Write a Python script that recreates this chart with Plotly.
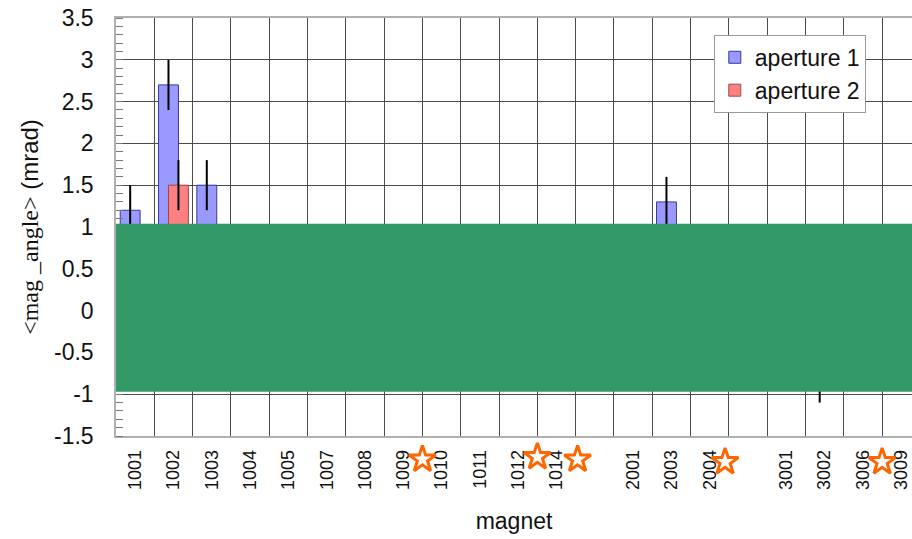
import plotly.graph_objects as go

# Magnet labels along the x axis ("" marks a spacer slot between groups)
magnets = ["1001", "1002", "1003", "1004", "1005", "1007", "1008", "1009",
           "1010", "1011", "1012", "1014", "", "2001", "2003", "2004", "",
           "3001", "3002", "3006", "3009"]

# Mean magnet angle (mrad) per aperture, with uncertainties
aperture1 = [1.2, 2.7, 1.5, None, None, None, None, None, None, None, None,
             None, None, None, 1.3, None, None, None, -0.8, None, None]
aperture1_err = [0.3, 0.3, 0.3, 0, 0, 0, 0, 0, 0, 0, 0,
                 0, 0, 0, 0.3, 0, 0, 0, 0.3, 0, 0]
aperture2 = [None, 1.5, None, None, None, None, None, None, None, None, None,
             None, None, None, None, None, None, None, None, None, None]
aperture2_err = [0, 0.3, 0, 0, 0, 0, 0, 0, 0, 0, 0,
                 0, 0, 0, 0, 0, 0, 0, 0, 0, 0]

# y-axis tick values and their labels
y_ticks = [-1.5, -1.0, -0.5, 0.0, 0.5, 1.0, 1.5, 2.0, 2.5, 3.0, 3.5]
y_tick_labels = ["-1.5", "-1", "-0.5", "0", "0.5", "1", "1.5", "2", "2.5",
                 "3", "3.5"]

# Flagged magnets, marked with stars beneath the axis
star_x = [7.5, 10.5, 11.55, 15.4, 19.5]
star_y = [-1.78, -1.75, -1.78, -1.81, -1.81]

# Shaded tolerance band
band_low, band_high = -0.97, 1.04

positions = list(range(len(magnets)))
x_range = [-0.5, 20.28]
y_range = [-1.5, 3.5]

# Layout geometry: main panel plus a thin strip under it for the star markers
W, H = 912, 539
M_L, M_R, M_T, M_B = 116, 0, 18, 40
panel_bottom_px = 436
plot_h = H - M_T - M_B
split = (H - M_B - panel_bottom_px) / plot_h
px_per_unit = (panel_bottom_px - M_T) / (y_range[1] - y_range[0])
strip_range = [y_range[0] - (H - M_B - panel_bottom_px) / px_per_unit, y_range[0]]

fig = go.Figure()
fig.add_trace(go.Bar(
    x=positions, y=aperture1, name="aperture 1",
    width=0.52, offset=-0.39,
    marker=dict(color="#9999ff", line=dict(color="#3a3a9a", width=1)),
    error_y=dict(type="data", array=aperture1_err, color="black",
                 thickness=2, width=0),
))
fig.add_trace(go.Bar(
    x=positions, y=aperture2, name="aperture 2",
    width=0.52, offset=-0.13,
    marker=dict(color="#ff8080", line=dict(color="#9a4a4a", width=1)),
    error_y=dict(type="data", array=aperture2_err, color="black",
                 thickness=2, width=0),
))
fig.add_trace(go.Scatter(
    x=star_x, y=star_y, mode="markers", showlegend=False,
    xaxis="x2", yaxis="y2", hoverinfo="skip",
    marker=dict(symbol="star-open", size=20, color="#ff6600",
                line=dict(color="#ff6600", width=3)),
))

fig.add_shape(type="rect", xref="paper", x0=0, x1=1, yref="y",
              y0=band_low, y1=band_high, fillcolor="#339966",
              line=dict(width=0), layer="above")

fig.update_layout(
    width=W, height=H,
    margin=dict(l=M_L, r=M_R, t=M_T, b=M_B),
    paper_bgcolor="white", plot_bgcolor="white",
    barmode="overlay",
    font=dict(family="Liberation Sans, Arial, sans-serif", color="#111"),
    legend=dict(x=0.751, y=0.965, xanchor="left", yanchor="top",
                bgcolor="white", bordercolor="#999", borderwidth=1,
                font=dict(size=23), tracegroupgap=2),
    xaxis=dict(
        range=x_range, tickmode="array", tickvals=positions,
        ticktext=magnets, tickangle=-90, tickfont=dict(size=18),
        ticks="", showgrid=False, zeroline=False, automargin=False,
        ticklabelstandoff=5, anchor="y",
        minor=dict(tick0=0.5, dtick=1, showgrid=True, gridcolor="#4a4a4a",
                   gridwidth=1.3, ticks=""),
        showline=True, linecolor="#b0b0b0", linewidth=1.5, mirror=True,
        title=dict(text="magnet", font=dict(size=23), standoff=24),
    ),
    yaxis=dict(
        domain=[split, 1], range=y_range,
        tickmode="array", tickvals=y_ticks, ticktext=y_tick_labels,
        tickfont=dict(size=23), ticks="", ticklabelstandoff=16,
        showgrid=True, gridcolor="#4a4a4a", gridwidth=1.3, zeroline=False,
        automargin=False,
        minor=dict(dtick=0.1, tick0=0, ticks="inside", ticklen=7,
                   tickcolor="#777", showgrid=False),
        showline=True, linecolor="#b0b0b0", linewidth=1.5,
        title=dict(
            text='<span style="font-family:Liberation Serif, Times New Roman, serif">'
                 '&lt;mag _angle&gt;</span> (mrad)',
            font=dict(size=24), standoff=9),
    ),
    xaxis2=dict(range=x_range, anchor="y2", overlaying="x", visible=False,
                showgrid=False),
    yaxis2=dict(domain=[0, split], range=strip_range, anchor="x2",
                visible=False, showgrid=False),
)

fig.write_html("out.html")
